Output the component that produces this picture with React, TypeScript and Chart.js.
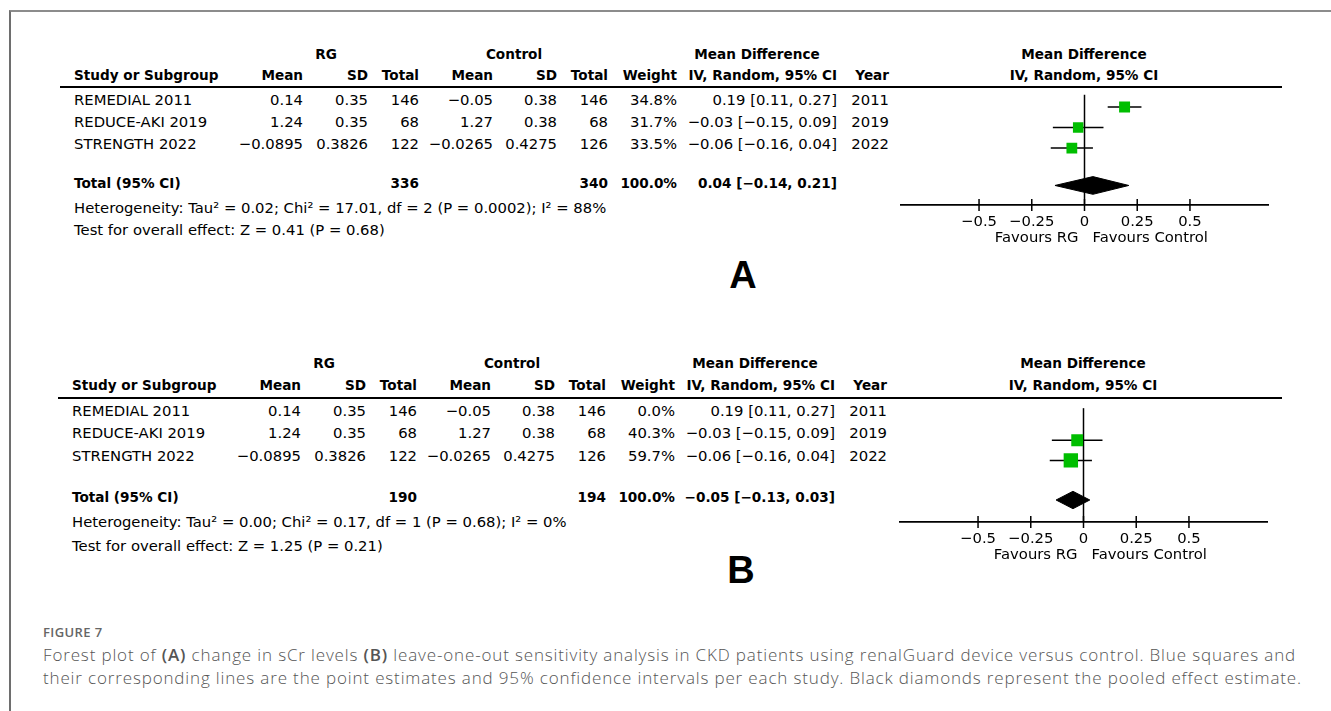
import React, { useEffect, useRef } from 'react';
import { Chart, registerables } from 'chart.js';

Chart.register(...registerables);

// ---------- data ----------
const studies = ['REMEDIAL 2011', 'REDUCE-AKI 2019', 'STRENGTH 2022'];
const studyYears = ['2011', '2019', '2022'];
const rgMean = ['0.14', '1.24', '−0.0895'];
const rgSD = ['0.35', '0.35', '0.3826'];
const rgTotal = [146, 68, 122];
const ctlMean = ['−0.05', '1.27', '−0.0265'];
const ctlSD = ['0.38', '0.38', '0.4275'];
const ctlTotal = [146, 68, 126];
const meanDiff = [0.19, -0.03, -0.06];
const ciLow = [0.11, -0.15, -0.16];
const ciHigh = [0.27, 0.09, 0.04];

const weightsA = [34.8, 31.7, 33.5];
const weightsB = [0.0, 40.3, 59.7];
const pooledA = [0.04, -0.14, 0.21]; // estimate, low, high
const pooledB = [-0.05, -0.13, 0.03];
const totalsA = [336, 340];
const totalsB = [190, 194];
const hetA = 'Heterogeneity: Tau² = 0.02; Chi² = 17.01, df = 2 (P = 0.0002); I² = 88%';
const hetB = 'Heterogeneity: Tau² = 0.00; Chi² = 0.17, df = 1 (P = 0.68); I² = 0%';
const testA = 'Test for overall effect: Z = 0.41 (P = 0.68)';
const testB = 'Test for overall effect: Z = 1.25 (P = 0.21)';

const tickValues = [-0.5, -0.25, 0, 0.25, 0.5];
const xRange = [-0.87, 0.87];

// ---------- style ----------
const FONT = '"DejaVu Sans", sans-serif';
const FS = 14.8;
const FSB = 13.6;
const GREEN = '#00be00';
const DIAMOND_H = 0.43;

const minus = (v: number, d: number) => (v < 0 ? '−' : '') + Math.abs(v).toFixed(d);
const ciText = (m: number, l: number, h: number) => `${minus(m, 2)} [${minus(l, 2)}, ${minus(h, 2)}]`;
const tickLabel = (v: number) => (v === 0 ? '0' : (v < 0 ? '−' : '') + String(Math.abs(v)));
const squareSide = (w: number) => 1.86 * Math.sqrt(w);

function Txt(props: any) {
  const { x, y, align = 'left', bold = false, size, children, font = FONT, color = '#000', weight, spacing = 0 } = props;
  const tx = align === 'left' ? '0' : align === 'right' ? '-100%' : '-50%';
  return (
    <div
      style={{
        position: 'absolute',
        left: x,
        top: y,
        transform: `translate(${tx}, -50%)`,
        fontFamily: font,
        fontSize: size ?? (bold ? FSB : FS),
        fontWeight: weight ?? (bold ? 700 : 400),
        letterSpacing: spacing,
        color,
        whiteSpace: 'nowrap',
        lineHeight: 1,
      }}
    >
      {children}
    </div>
  );
}

function ForestChart(props: any) {
  const { weights, pooled, left, top, yMax, totalPos } = props;
  const ref = useRef<HTMLCanvasElement>(null);
  const height = Math.round((yMax + 0.59) * 22) + 50;

  useEffect(() => {
    const canvas = ref.current!;
    const visible = weights.map((_: number, i: number) => i).filter((i: number) => weights[i] > 0);
    const datasets: any[] = [
      {
        type: 'scatter',
        data: visible.map((i: number) => ({ x: meanDiff[i], y: i })),
        pointStyle: 'rect',
        pointRadius: visible.map((i: number) => squareSide(weights[i]) / (2 * Math.SQRT1_2)),
        pointBackgroundColor: GREEN,
        backgroundColor: GREEN,
        pointBorderWidth: 0,
        borderWidth: 0,
      },
      ...visible.map((i: number) => ({
        type: 'line',
        data: [
          { x: ciLow[i], y: i },
          { x: ciHigh[i], y: i },
        ],
        borderColor: '#000',
        borderWidth: 1.5,
        pointRadius: 0,
        fill: false,
      })),
      {
        type: 'line',
        data: [
          { x: pooled[1], y: totalPos },
          { x: pooled[0], y: totalPos - DIAMOND_H },
          { x: pooled[2], y: totalPos },
        ],
        borderColor: '#000',
        borderWidth: 1,
        pointRadius: 0,
        tension: 0,
        fill: false,
      },
      {
        type: 'line',
        data: [
          { x: pooled[1], y: totalPos },
          { x: pooled[0], y: totalPos + DIAMOND_H },
          { x: pooled[2], y: totalPos },
        ],
        borderColor: '#000',
        backgroundColor: '#000',
        borderWidth: 1,
        pointRadius: 0,
        tension: 0,
        fill: '-1',
      },
    ];

    const decor = {
      id: 'forestDecor',
      beforeDatasetsDraw(chart: any) {
        const { ctx, chartArea, scales } = chart;
        const px = scales.x.getPixelForValue(0);
        ctx.save();
        ctx.strokeStyle = '#000';
        ctx.lineWidth = 1.5;
        ctx.beginPath();
        ctx.moveTo(px, chartArea.top);
        ctx.lineTo(px, chartArea.bottom);
        ctx.stroke();
        ctx.restore();
      },
      afterDraw(chart: any) {
        const { ctx, chartArea, scales } = chart;
        const yb = chartArea.bottom;
        ctx.save();
        ctx.strokeStyle = '#000';
        ctx.lineWidth = 1.5;
        tickValues.forEach((v) => {
          const px = scales.x.getPixelForValue(v);
          ctx.beginPath();
          ctx.moveTo(px, yb - 6);
          ctx.lineTo(px, yb + 6);
          ctx.stroke();
        });
        const zx = scales.x.getPixelForValue(0);
        ctx.fillStyle = '#000';
        ctx.font = `${FS}px ${FONT}`;
        ctx.textBaseline = 'middle';
        ctx.textAlign = 'right';
        ctx.fillText('Favours RG', zx - 6, yb + 33);
        ctx.textAlign = 'left';
        ctx.fillText('Favours Control', zx + 8, yb + 33);
        ctx.restore();
      },
    };

    const chart = new Chart(canvas, {
      type: 'scatter',
      data: { datasets },
      options: {
        animation: false,
        responsive: false,
        devicePixelRatio: 1,
        events: [],
        layout: { padding: { left: 11, right: 12, top: 0, bottom: 0 } },
        plugins: { legend: { display: false }, tooltip: { enabled: false } },
        scales: {
          x: {
            type: 'linear',
            min: xRange[0],
            max: xRange[1],
            position: 'bottom',
            afterBuildTicks: (s: any) => {
              s.ticks = tickValues.map((v) => ({ value: v }));
            },
            afterFit: (s: any) => {
              s.height = 50;
            },
            grid: { display: false, drawTicks: false },
            border: { display: true, color: '#000', width: 1.7 },
            ticks: {
              color: '#000',
              font: { family: FONT, size: FS },
              padding: 8,
              maxRotation: 0,
              autoSkip: false,
              callback: (v: any) => tickLabel(Number(v)),
            },
          },
          y: { type: 'linear', display: false, reverse: true, min: -0.59, max: yMax },
        },
      },
      plugins: [decor],
    } as any);
    return () => chart.destroy();
  }, []);

  return (
    <canvas
      ref={ref}
      width={390}
      height={height}
      style={{ position: 'absolute', left, top, width: 390, height }}
    />
  );
}

function Panel(props: any) {
  const { L, weights, pooled, totals, het, test, letter } = props;
  const dx = L.dx;
  const c = {
    study: 74 + dx,
    rgMean: 303 + dx,
    rgSD: 368 + dx,
    rgTot: 419 + dx,
    ctlMean: 493 + dx,
    ctlSD: 557 + dx,
    ctlTot: 608 + dx,
    weight: 677 + dx,
    ci: 837 + dx,
    year: 889 + dx,
    rgC: 326 + dx,
    ctlC: 514 + dx,
    mdC: 757 + dx,
    rightC: 1084 + L.fdx,
  };
  return (
    <>
      <Txt x={c.rgC} y={L.rgY} align="center" bold>RG</Txt>
      <Txt x={c.ctlC} y={L.rgY} align="center" bold>Control</Txt>
      <Txt x={c.mdC} y={L.rgY} align="center" bold>Mean Difference</Txt>
      <Txt x={c.rightC} y={L.rgY} align="center" bold>Mean Difference</Txt>

      <Txt x={c.study} y={L.headY} bold>Study or Subgroup</Txt>
      <Txt x={c.rgMean} y={L.headY} align="right" bold>Mean</Txt>
      <Txt x={c.rgSD} y={L.headY} align="right" bold>SD</Txt>
      <Txt x={c.rgTot} y={L.headY} align="right" bold>Total</Txt>
      <Txt x={c.ctlMean} y={L.headY} align="right" bold>Mean</Txt>
      <Txt x={c.ctlSD} y={L.headY} align="right" bold>SD</Txt>
      <Txt x={c.ctlTot} y={L.headY} align="right" bold>Total</Txt>
      <Txt x={c.weight} y={L.headY} align="right" bold>Weight</Txt>
      <Txt x={c.ci} y={L.headY} align="right" bold>IV, Random, 95% CI</Txt>
      <Txt x={c.year} y={L.headY} align="right" bold>Year</Txt>
      <Txt x={c.rightC} y={L.headY} align="center" bold>IV, Random, 95% CI</Txt>

      <div
        style={{
          position: 'absolute',
          left: 60 + dx,
          width: 1282 - 60 - dx,
          top: L.lineY - 1,
          height: 2,
          background: '#000',
        }}
      />

      {studies.map((s, i) => (
        <React.Fragment key={s}>
          <Txt x={c.study} y={L.rowY[i]}>{s}</Txt>
          <Txt x={c.rgMean} y={L.rowY[i]} align="right">{rgMean[i]}</Txt>
          <Txt x={c.rgSD} y={L.rowY[i]} align="right">{rgSD[i]}</Txt>
          <Txt x={c.rgTot} y={L.rowY[i]} align="right">{rgTotal[i]}</Txt>
          <Txt x={c.ctlMean} y={L.rowY[i]} align="right">{ctlMean[i]}</Txt>
          <Txt x={c.ctlSD} y={L.rowY[i]} align="right">{ctlSD[i]}</Txt>
          <Txt x={c.ctlTot} y={L.rowY[i]} align="right">{ctlTotal[i]}</Txt>
          <Txt x={c.weight} y={L.rowY[i]} align="right">{weights[i].toFixed(1)}%</Txt>
          <Txt x={c.ci} y={L.rowY[i]} align="right">{ciText(meanDiff[i], ciLow[i], ciHigh[i])}</Txt>
          <Txt x={c.year} y={L.rowY[i]} align="right">{studyYears[i]}</Txt>
        </React.Fragment>
      ))}

      <Txt x={c.study} y={L.totalY} bold>Total (95% CI)</Txt>
      <Txt x={c.rgTot} y={L.totalY} align="right" bold>{totals[0]}</Txt>
      <Txt x={c.ctlTot} y={L.totalY} align="right" bold>{totals[1]}</Txt>
      <Txt x={c.weight} y={L.totalY} align="right" bold>100.0%</Txt>
      <Txt x={c.ci} y={L.totalY} align="right" bold>{ciText(pooled[0], pooled[1], pooled[2])}</Txt>
      <Txt x={c.study} y={L.hetY}>{het}</Txt>
      <Txt x={c.study} y={L.testY}>{test}</Txt>

      <Txt x={L.letterX} y={L.letterY} align="center" size={38} font='"Liberation Sans", Arial, sans-serif' bold>
        {letter}
      </Txt>

      <ForestChart
        weights={weights}
        pooled={pooled}
        left={890 + L.fdx}
        top={L.lineY}
        yMax={L.yMax}
        totalPos={L.totalPos}
      />
    </>
  );
}

const layoutA = {
  dx: 0, fdx: 0, rgY: 55, headY: 76, lineY: 87, rowY: [100, 122, 144], totalY: 184, hetY: 208, testY: 230,
  letterX: 743, letterY: 275, yMax: 4.77, totalPos: 3.82,
};
const layoutB = {
  dx: -2, fdx: -1, rgY: 364, headY: 386, lineY: 398, rowY: [411, 433, 456], totalY: 498, hetY: 522, testY: 546,
  letterX: 741, letterY: 570, yMax: 5.05, totalPos: 3.96,
};

export default function App() {
  return (
    <div
      style={{
        position: 'absolute',
        left: 0,
        top: 0,
        width: 1331,
        height: 711,
        overflow: 'hidden',
        background: '#fff',
      }}
    >
      <div
        style={{
          position: 'absolute',
          left: 9,
          top: 10,
          width: 1400,
          height: 800,
          borderTop: '2px solid #8c8c8c',
          borderLeft: '2px solid #6e6e6e',
          boxSizing: 'border-box',
        }}
      />
      <Panel L={layoutA} weights={weightsA} pooled={pooledA} totals={totalsA} het={hetA} test={testA} letter="A" />
      <Panel L={layoutB} weights={weightsB} pooled={pooledB} totals={totalsB} het={hetB} test={testB} letter="B" />

      <Txt x={43} y={632} size={13} spacing={0.4} font='"Open Sans", sans-serif' weight={600} color="#666">
        FIGURE 7
      </Txt>
      <Txt x={43} y={654} size={17} spacing={0.85} font='"Open Sans", sans-serif' weight={300} color="#555">
        Forest plot of <span style={{ fontWeight: 600 }}>(A)</span> change in sCr levels{' '}
        <span style={{ fontWeight: 600 }}>(B)</span> leave-one-out sensitivity analysis in CKD patients using renalGuard
        device versus control. Blue squares and
      </Txt>
      <Txt x={43} y={677} size={17} spacing={0.85} font='"Open Sans", sans-serif' weight={300} color="#555">
        their corresponding lines are the point estimates and 95% confidence intervals per each study. Black diamonds
        represent the pooled effect estimate.
      </Txt>
    </div>
  );
}
